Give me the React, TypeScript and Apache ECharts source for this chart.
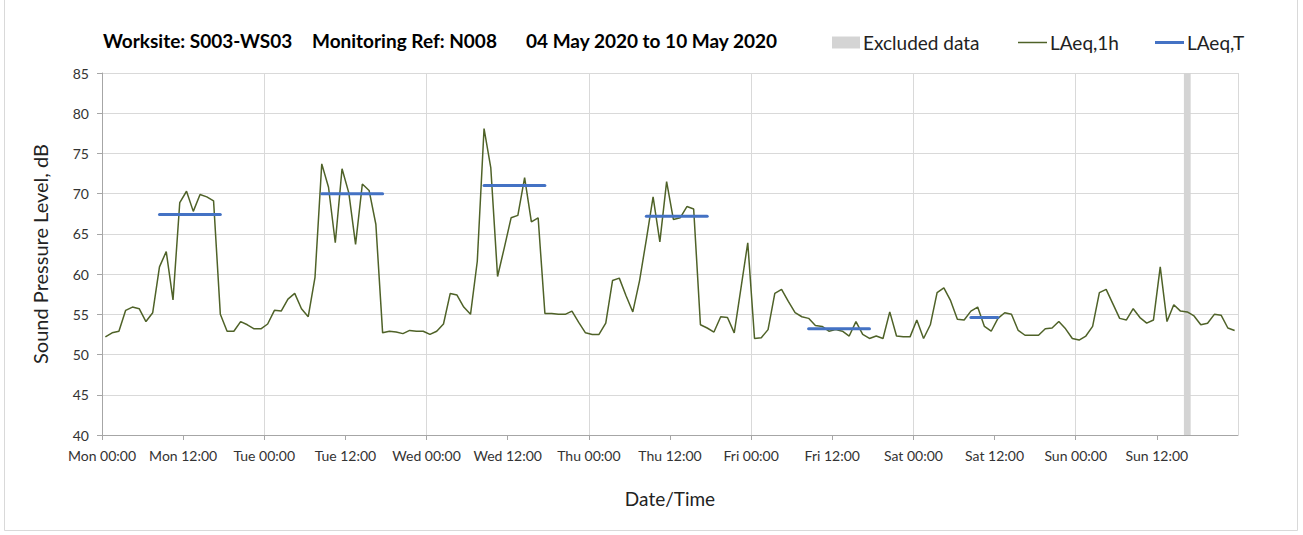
import React, { useEffect, useRef } from "react";
import * as echarts from "echarts";

const DAYS = ["Mon", "Tue", "Wed", "Thu", "Fri", "Sat", "Sun"];

// Hourly LAeq,1h values (dB), one per hour from Mon 00:00
const LAEQ_1H_MON = [52.2, 52.7, 52.9, 55.5, 55.9, 55.7, 54.1, 55.2, 60.9, 62.8, 56.8, 68.9, 70.3, 67.8, 69.9, 69.6, 69.1, 55.0, 52.9, 52.9, 54.1, 53.7, 53.2, 53.2];
const LAEQ_1H_TUE = [53.8, 55.5, 55.4, 56.9, 57.6, 55.7, 54.7, 59.6, 73.7, 70.8, 63.9, 73.1, 70.1, 63.7, 71.2, 70.4, 66.2, 52.7, 52.9, 52.8, 52.6, 53.0, 52.9, 52.9];
const LAEQ_1H_WED = [52.5, 52.9, 53.8, 57.6, 57.4, 55.9, 55.0, 61.6, 78.1, 73.2, 59.7, 63.3, 67.0, 67.3, 72.0, 66.5, 67.0, 55.1, 55.1, 55.0, 55.0, 55.4, 54.0, 52.7];
const LAEQ_1H_THU = [52.5, 52.5, 53.9, 59.2, 59.5, 57.3, 55.3, 59.2, 64.3, 69.6, 64.0, 71.5, 66.8, 67.0, 68.4, 68.1, 53.7, 53.3, 52.8, 54.7, 54.6, 52.7, 58.3, 63.9];
const LAEQ_1H_FRI = [52.0, 52.1, 53.1, 57.6, 58.1, 56.6, 55.2, 54.7, 54.5, 53.6, 53.5, 52.9, 53.1, 52.9, 52.3, 54.1, 52.5, 52.0, 52.3, 52.0, 55.3, 52.3, 52.2, 52.2];
const LAEQ_1H_SAT = [54.3, 52.0, 53.7, 57.7, 58.3, 56.7, 54.4, 54.3, 55.4, 55.9, 53.5, 52.9, 54.5, 55.2, 55.0, 53.0, 52.4, 52.4, 52.4, 53.2, 53.3, 54.1, 53.2, 52.0];
const LAEQ_1H_SUN = [51.8, 52.3, 53.5, 57.7, 58.1, 56.3, 54.5, 54.3, 55.7, 54.6, 53.9, 54.3, 60.9, 54.1, 56.2, 55.4, 55.3, 54.8, 53.7, 53.9, 55.0, 54.9, 53.3, 53.0];

// LAeq,T assessment periods (hour index from Mon 00:00, first and last hour)
const PERIOD_START_H = [8, 32, 56, 80, 104, 128];
const PERIOD_END_H = [17, 41, 65, 89, 113, 132];
const PERIOD_LAEQ_T = [67.4, 70.0, 71.0, 67.2, 53.2, 54.6];

// Excluded data (hours from Mon 00:00)
const EXCLUDED_START_H = [160];
const EXCLUDED_END_H = [161];

const Y_MIN = 40;
const Y_MAX = 85;
const Y_STEP = 5;
const X_MAX_H = 168;
const X_LABEL_STEP_H = 12;
const X_GRID_STEP_H = 24;

const FONT = "Lato, 'Noto Sans', sans-serif";

export default function App() {
  const ref = useRef<HTMLDivElement>(null);

  useEffect(() => {
    if (!ref.current) return;
    const chart = echarts.init(ref.current, null, { renderer: "svg" });

    const LAEQ_1H = [
      ...LAEQ_1H_MON,
      ...LAEQ_1H_TUE,
      ...LAEQ_1H_WED,
      ...LAEQ_1H_THU,
      ...LAEQ_1H_FRI,
      ...LAEQ_1H_SAT,
      ...LAEQ_1H_SUN,
    ];
    const lineData = LAEQ_1H.map((v, i) => [i + 0.5, v]);

    const periodSeries = PERIOD_LAEQ_T.map((v, i) => ({
      name: "LAeq,T",
      type: "line",
      xAxisIndex: 0,
      yAxisIndex: 0,
      symbol: "none",
      color: "#4472C4",
      itemStyle: { color: "#4472C4" },
      lineStyle: { color: "#4472C4", width: 3, cap: "round" },
      z: 4,
      data: [
        [PERIOD_START_H[i] + 0.5, v],
        [PERIOD_END_H[i] + 0.5, v],
      ],
    }));

    const labelFmt = (val: number) => {
      if (val >= X_MAX_H) return "";
      const d = DAYS[Math.floor(val / 24)];
      const h = val % 24;
      return `${d} ${h === 0 ? "00:00" : "12:00"}`;
    };

    const legendText = { fontFamily: FONT, fontSize: 19, color: "#222", padding: [0, 0, 0, -2] };
    const titleFont = `bold 19px ${FONT}`;

    chart.setOption({
      animation: false,
      backgroundColor: "#ffffff",
      textStyle: { fontFamily: FONT },
      grid: { left: 102, right: 65, top: 73, bottom: 100, containLabel: false },
      graphic: [
        {
          type: "rect",
          shape: { x: 4.5, y: -2, width: 1293, height: 532.5 },
          style: { fill: "none", stroke: "#d9d9d9", lineWidth: 1 },
          silent: true,
        },
        {
          type: "text",
          left: 103,
          top: 31,
          style: { text: "Worksite: S003-WS03", font: titleFont, fill: "#000" },
        },
        {
          type: "text",
          left: 312,
          top: 31,
          style: { text: "Monitoring Ref: N008", font: titleFont, fill: "#000" },
        },
        {
          type: "text",
          left: 526,
          top: 31,
          style: { text: "04 May 2020 to 10 May 2020", font: titleFont, fill: "#000" },
        },
      ],
      legend: [
        {
          data: [{ name: "Excluded data", icon: "rect" }],
          left: 832,
          top: 33,
          padding: 0,
          itemWidth: 28,
          itemHeight: 12,
          textStyle: legendText,
          selectedMode: false,
        },
        {
          data: [{ name: "LAeq,1h", icon: "rect" }],
          left: 1018,
          top: 33,
          padding: 0,
          itemWidth: 29,
          itemHeight: 1.5,
          textStyle: legendText,
          selectedMode: false,
        },
        {
          data: [{ name: "LAeq,T", icon: "rect" }],
          left: 1155,
          top: 33,
          padding: 0,
          itemWidth: 29,
          itemHeight: 3,
          textStyle: legendText,
          selectedMode: false,
        },
      ],
      xAxis: [
        {
          type: "value",
          min: 0,
          max: X_MAX_H,
          interval: X_LABEL_STEP_H,
          name: "Date/Time",
          nameLocation: "middle",
          nameGap: 54,
          nameTextStyle: { fontFamily: FONT, fontSize: 19, color: "#222" },
          axisLine: { show: true, lineStyle: { color: "#a6a6a6", width: 1 } },
          axisTick: { show: true, length: 5, inside: false, lineStyle: { color: "#a6a6a6" } },
          axisLabel: {
            formatter: labelFmt,
            fontFamily: FONT,
            fontSize: 14,
            color: "#333",
            margin: 13,
            showMaxLabel: false,
          },
          splitLine: { show: false },
        },
        {
          type: "value",
          min: 0,
          max: X_MAX_H,
          interval: X_GRID_STEP_H,
          position: "bottom",
          axisLine: { show: false },
          axisTick: { show: false },
          axisLabel: { show: false },
          splitLine: { show: true, lineStyle: { color: "#d9d9d9", width: 1 } },
        },
      ],
      yAxis: {
        type: "value",
        min: Y_MIN,
        max: Y_MAX,
        interval: Y_STEP,
        name: "Sound Pressure Level, dB",
        nameLocation: "middle",
        nameGap: 52,
        nameRotate: 90,
        nameTextStyle: { fontFamily: FONT, fontSize: 20, color: "#222" },
        axisLine: { show: true, lineStyle: { color: "#a6a6a6", width: 1 } },
        axisTick: { show: true, length: 5, lineStyle: { color: "#a6a6a6" } },
        axisLabel: { fontFamily: FONT, fontSize: 14, color: "#333", margin: 13 },
        splitLine: { show: true, lineStyle: { color: "#d9d9d9", width: 1 } },
      },
      series: [
        {
          name: "Excluded data",
          type: "line",
          xAxisIndex: 0,
          yAxisIndex: 0,
          data: [],
          color: "#d4d4d4",
          itemStyle: { color: "#d4d4d4" },
          z: 1,
          markArea: {
            silent: true,
            itemStyle: { color: "#d4d4d4", opacity: 1 },
            data: EXCLUDED_START_H.map((s, i) => [{ xAxis: s }, { xAxis: EXCLUDED_END_H[i] }]),
          },
        },
        {
          name: "LAeq,1h",
          type: "line",
          xAxisIndex: 0,
          yAxisIndex: 0,
          symbol: "none",
          color: "#4F6228",
          itemStyle: { color: "#4F6228" },
          lineStyle: { color: "#4F6228", width: 1.5 },
          z: 3,
          data: lineData,
        },
        ...periodSeries,
      ],
    });

    return () => chart.dispose();
  }, []);

  return (
    <div
      ref={ref}
      style={{ position: "fixed", left: 0, top: 0, width: 1303, height: 535, background: "#fff" }}
    />
  );
}
